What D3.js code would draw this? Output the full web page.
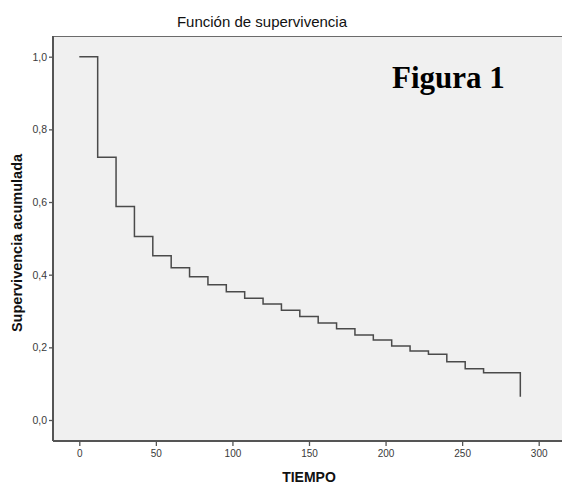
<!DOCTYPE html>
<html lang="es">
<head>
    <meta charset="UTF-8">
    <title>Función de supervivencia</title>
    <script src="https://d3js.org/d3.v7.min.js"></script>
    <style>
        body { margin: 0; background: #fff; }
        svg text { font-family: "Liberation Sans", Arial, sans-serif; }
    </style>
</head>
<body>
    <svg width="562" height="487"></svg>

    <script>
        // tiempos de evento y supervivencia acumulada
        const tiempos = [0, 12, 24, 36, 48, 60, 72, 84, 96, 108, 120, 132, 144, 156, 168, 180, 192, 204, 216, 228, 240, 252, 264, 288];
        const supervivencia = [1.0, 0.723, 0.588, 0.505, 0.452, 0.419, 0.394, 0.372, 0.353, 0.335, 0.319, 0.302, 0.285, 0.267, 0.251, 0.234, 0.220, 0.204, 0.190, 0.181, 0.160, 0.141, 0.130, 0.064];
        const xTicks = [0, 50, 100, 150, 200, 250, 300];
        const yTicks = [0, 0.2, 0.4, 0.6, 0.8, 1.0];

        const svg = d3.select("svg");
        const plotL = 53, plotR = 562, plotT = 36, plotB = 441;

        const x = d3.scaleLinear().domain([0, 300]).range([79.3, 538.7]);
        const y = d3.scaleLinear().domain([0, 1]).range([420, 56.7]);

        // fondo del area de grafico
        svg.append("rect")
            .attr("x", plotL).attr("y", plotT)
            .attr("width", plotR - plotL).attr("height", plotB - plotT)
            .attr("fill", "#f0f0f0");
        svg.append("line")
            .attr("x1", plotL).attr("x2", plotR)
            .attr("y1", plotT + 0.5).attr("y2", plotT + 0.5)
            .attr("stroke", "#6b6b6b").attr("stroke-width", 1);

        // curva escalonada
        const pts = tiempos.map((t, i) => [t, supervivencia[i]]);
        let path = "M" + x(pts[0][0]) + "," + y(pts[0][1]);
        for (let i = 1; i < pts.length; i++) {
            path += "H" + x(pts[i][0]) + "V" + y(pts[i][1]);
        }
        svg.append("path")
            .attr("d", path)
            .attr("fill", "none")
            .attr("stroke", "#4a4a4a")
            .attr("stroke-width", 1.5);

        // ejes
        const yAxis = svg.append("g")
            .attr("transform", `translate(${plotL},0)`)
            .call(d3.axisLeft(y).tickValues(yTicks).tickSize(4).tickPadding(2)
                .tickFormat(d => d3.format(".1f")(d).replace(".", ",")));
        yAxis.select(".domain").attr("d", `M0,${plotT}V${plotB}`);
        yAxis.selectAll(".tick text").style("font-size", "10.5px");

        const xAxis = svg.append("g")
            .attr("transform", `translate(0,${plotB})`)
            .call(d3.axisBottom(x).tickValues(xTicks).tickSize(5).tickPadding(4));
        xAxis.select(".domain").attr("d", `M${plotL},0H${plotR}`);
        xAxis.selectAll(".tick text").style("font-size", "10px");

        svg.selectAll(".domain").attr("stroke", "#555").attr("stroke-width", 2);
        svg.selectAll(".tick line").attr("stroke", "#555").attr("stroke-width", 1.3);
        svg.selectAll(".tick text").attr("fill", "#3a3a3a");

        // titulos
        svg.append("text")
            .attr("x", 262).attr("y", 27)
            .attr("text-anchor", "middle")
            .style("font-size", "15px")
            .attr("fill", "#111")
            .text("Función de supervivencia");

        svg.append("text")
            .attr("x", 309).attr("y", 482)
            .attr("text-anchor", "middle")
            .style("font-size", "14px")
            .style("font-weight", "bold")
            .attr("fill", "#111")
            .text("TIEMPO");

        svg.append("text")
            .attr("transform", `translate(22,243) rotate(-90)`)
            .attr("text-anchor", "middle")
            .style("font-size", "14.5px")
            .style("font-weight", "bold")
            .attr("fill", "#111")
            .text("Supervivencia acumulada");

        svg.append("text")
            .attr("x", 392).attr("y", 88)
            .style("font-family", "'Liberation Serif', 'Times New Roman', serif")
            .style("font-size", "31px")
            .style("font-weight", "bold")
            .attr("fill", "#000")
            .text("Figura 1");
    </script>
</body>
</html>
